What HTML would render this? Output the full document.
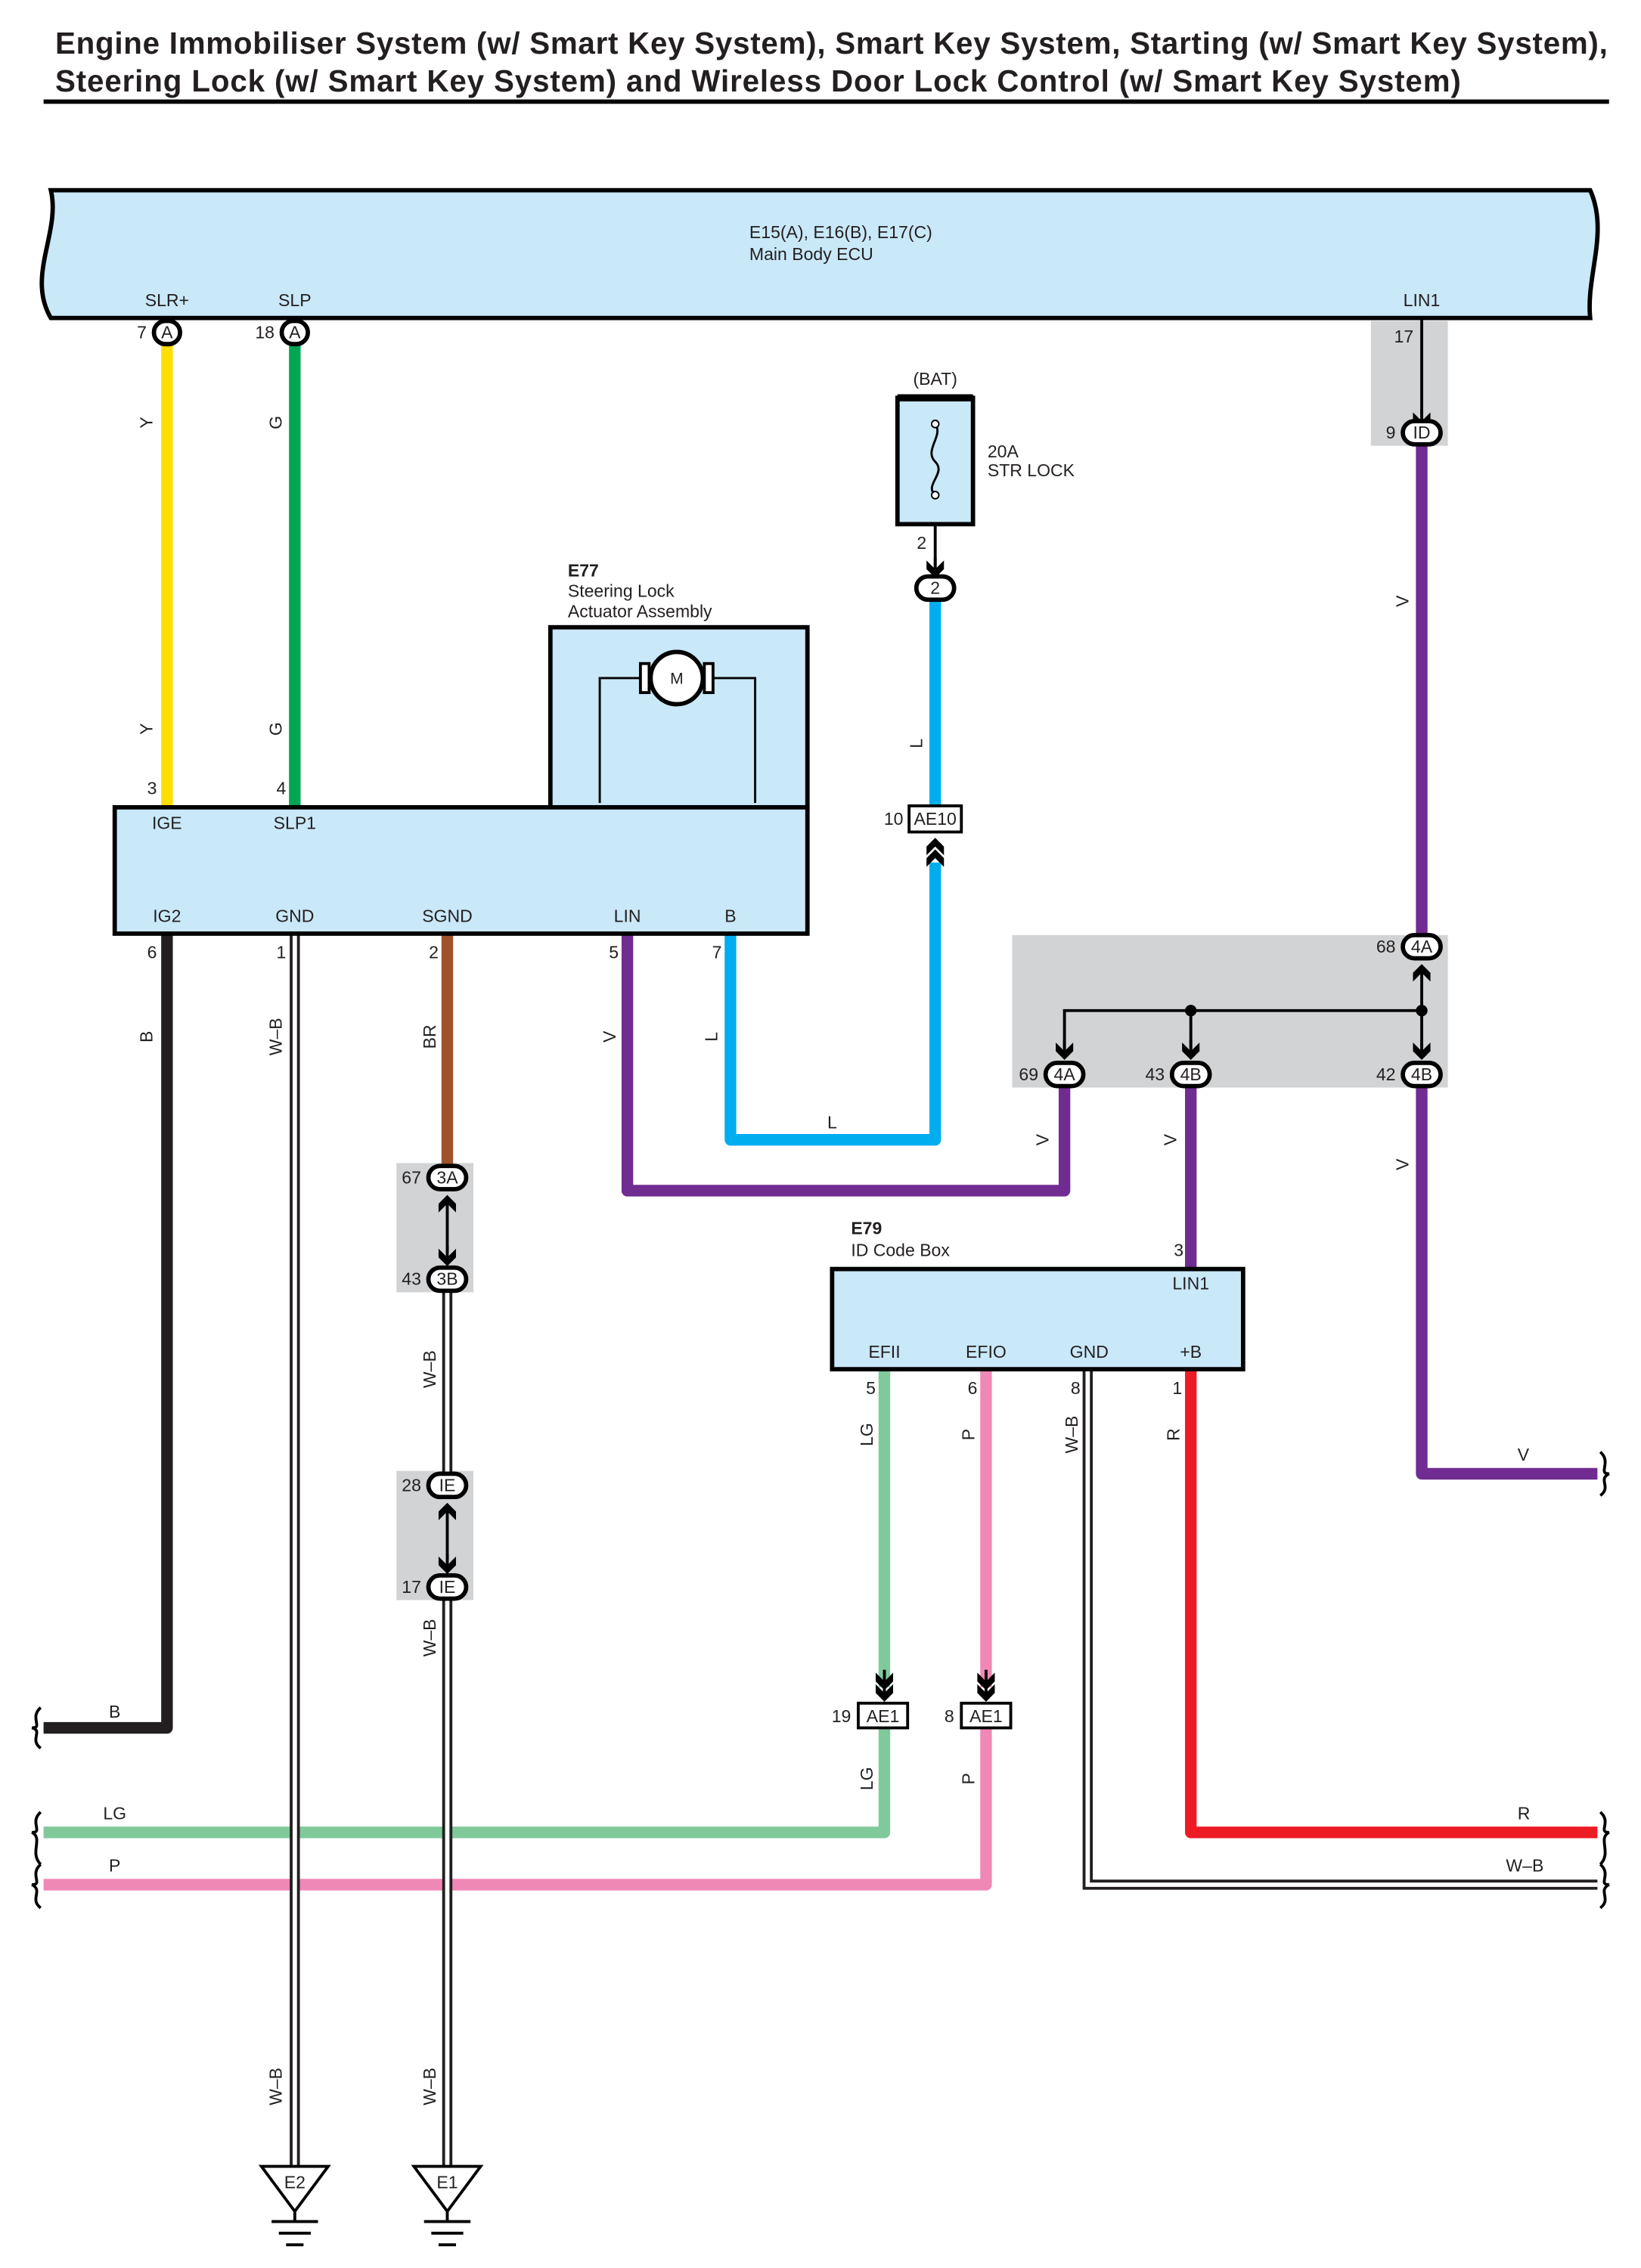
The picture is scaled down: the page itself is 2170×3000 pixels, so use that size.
<!DOCTYPE html>
<html><head><meta charset="utf-8"><style>
html,body{margin:0;padding:0;background:#fff}
svg{display:block}
text{font-family:"Liberation Sans Narrow","Liberation Sans",sans-serif;font-size:12px;fill:#231f20}
.b{font-weight:bold}
.t{font-family:"Liberation Sans",sans-serif;font-weight:bold;font-size:21px}
.m{text-anchor:middle}
.e{text-anchor:end}
.w{fill:none;stroke-width:8;stroke-linejoin:round}
.c{fill:#fff;stroke:#000;stroke-width:3}
</style></head><body>
<svg width="2170" height="3000" viewBox="0 0 1130 1562" preserveAspectRatio="none" xmlns="http://www.w3.org/2000/svg">
<defs>
<g id="dn"><path d="M0,-8 L0,2" stroke="#000" stroke-width="2"/><path d="M-6,-6 L0,0 L6,-6 L6,0 L0,6 L-6,0Z" fill="#000"/></g>
<g id="up"><path d="M-6,6 L0,0 L6,6 L6,0 L0,-6 L-6,0Z" fill="#000"/></g>
<g id="gnd"><path d="M-23,0 L23,0 L0,31Z" fill="#fff" stroke="#000" stroke-width="2"/><path d="M0,31 V38 M-16,38 H16 M-11,46 H11 M-6,54 H6" stroke="#000" stroke-width="2"/></g>
</defs>
<text class="t" x="38" y="37" textLength="1069">Engine Immobiliser System (w/ Smart Key System), Smart Key System, Starting (w/ Smart Key System),</text>
<text class="t" x="38" y="63" textLength="968">Steering Lock (w/ Smart Key System) and Wireless Door Lock Control (w/ Smart Key System)</text>
<rect x="30" y="68.5" width="1078" height="3" fill="#000"/>

<!-- ECU -->
<path d="M35,131 H1095 C1108,160 1092,190 1095,219 H35 C18,190 42,160 35,131Z" fill="#c9e8f8" stroke="#000" stroke-width="3"/>
<text x="516" y="164">E15(A), E16(B), E17(C)</text>
<text x="516" y="179">Main Body ECU</text>
<text class="m" x="115" y="211">SLR+</text><text class="m" x="203" y="211">SLP</text><text class="m" x="979" y="211">LIN1</text>

<!-- gray boxes -->
<rect x="944" y="221" width="53" height="86" fill="#d1d3d4"/>
<rect x="697" y="644" width="300" height="105" fill="#d1d3d4"/>
<rect x="273" y="801" width="53" height="89" fill="#d1d3d4"/>
<rect x="273" y="1013" width="53" height="89" fill="#d1d3d4"/>

<!-- wires -->
<path class="w" stroke="#ffde00" d="M115,237 V555"/>
<path class="w" stroke="#00a651" d="M203,237 V555"/>
<path class="w" stroke="#702c91" d="M979,306 V645"/>
<path class="w" stroke="#00aeef" d="M644,413 V556"/>
<path class="w" stroke="#00aeef" d="M644,594 V785 H503 V643"/>
<path class="w" stroke="#231f20" d="M115,643 V1190 H30"/>
<path class="w" stroke="#a0522d" d="M308,643 V803"/>
<path class="w" stroke="#702c91" d="M432,643 V820 H733 V748"/>
<path class="w" stroke="#702c91" d="M820,748 V873"/>
<path class="w" stroke="#702c91" d="M979,748 V1015 H1100"/>
<path class="w" stroke="#80c99b" d="M609,943 V1162"/>
<path class="w" stroke="#80c99b" d="M609,1190 V1262 H30"/>
<path class="w" stroke="#f088b6" d="M679,943 V1162"/>
<path class="w" stroke="#f088b6" d="M679,1190 V1298 H30"/>
<path class="w" stroke="#ed1c24" d="M820,943 V1262 H1100"/>
<!-- W-B -->
<g fill="none">
<path stroke="#231f20" stroke-width="7" d="M203,643 V1492"/><path stroke="#fff" stroke-width="3" d="M203,643 V1492"/>
<path stroke="#231f20" stroke-width="7" d="M308,889 V1015 M308,1101 V1492"/><path stroke="#fff" stroke-width="3" d="M308,889 V1015 M308,1101 V1492"/>
<path stroke="#231f20" stroke-width="7" d="M749,943 V1298 H1100"/><path stroke="#fff" stroke-width="3" d="M749,943 V1298 H1100"/>
</g>

<!-- break symbols -->
<g fill="none" stroke="#000" stroke-width="2">
<path d="M28,1176 C20,1183 30,1190 22,1190 C30,1192 20,1198 28,1204"/>
<path d="M28,1248 C20,1255 30,1262 22,1262 C30,1266 20,1276 28,1284"/>
<path d="M28,1284 C20,1291 30,1298 22,1298 C30,1302 20,1308 28,1314"/>
<path d="M1102,1000 C1110,1007 1100,1015 1108,1015 C1100,1019 1110,1024 1102,1030"/>
<path d="M1102,1248 C1110,1255 1100,1262 1108,1262 C1100,1266 1110,1276 1102,1284"/>
<path d="M1102,1284 C1110,1291 1100,1298 1108,1298 C1100,1302 1110,1308 1102,1314"/>
</g>

<!-- ECU connectors -->
<rect class="c" x="106" y="221" width="18" height="16" rx="8"/><text class="m" x="115" y="233">A</text><text class="e" x="101" y="233">7</text>
<rect class="c" x="194" y="221" width="18" height="16" rx="8"/><text class="m" x="203" y="233">A</text><text class="e" x="189" y="233">18</text>
<path d="M979,219 V285" stroke="#000" stroke-width="2"/><use href="#dn" x="979" y="290"/>
<text x="960" y="236">17</text>
<rect class="c" x="966" y="290" width="26" height="16" rx="8"/><text class="m" x="979" y="302">ID</text><text class="e" x="961" y="302">9</text>
<text transform="translate(970,414) rotate(-90)" class="m">V</text>

<!-- fuse -->
<text class="m" x="644" y="265">(BAT)</text>
<rect x="618" y="274" width="52" height="87" fill="#c9e8f8" stroke="#000" stroke-width="3"/>
<path d="M618,274 H670" stroke="#000" stroke-width="5"/>
<path d="M644,292 C650,300 636,310 644,318 C652,326 636,334 644,341" fill="none" stroke="#000" stroke-width="1.5"/>
<circle cx="644" cy="292" r="2.5" fill="#fff" stroke="#000"/><circle cx="644" cy="341" r="2.5" fill="#fff" stroke="#000"/>
<text x="680" y="315">20A</text><text x="680" y="328">STR LOCK</text>
<path d="M644,361 V393" stroke="#000" stroke-width="2"/><use href="#dn" x="644" y="392"/>
<text class="e" x="638" y="378">2</text>
<rect class="c" x="631" y="397" width="26" height="16" rx="8"/><text class="m" x="644" y="409">2</text>
<text transform="translate(635,512) rotate(-90)" class="m">L</text>
<rect x="626" y="555" width="36" height="18" fill="#fff" stroke="#000" stroke-width="2"/><text class="m" x="644" y="568">AE10</text><text class="e" x="622" y="568">10</text>
<use href="#up" x="644" y="583"/><use href="#up" x="644" y="591"/>
<text class="m" x="573" y="777">L</text>
<text transform="translate(494,714) rotate(-90)" class="m">L</text>

<!-- wire color labels -->
<text transform="translate(105,291) rotate(-90)" class="m">Y</text>
<text transform="translate(105,502) rotate(-90)" class="m">Y</text>
<text transform="translate(194,291) rotate(-90)" class="m">G</text>
<text transform="translate(194,502) rotate(-90)" class="m">G</text>

<!-- E77 -->
<text class="b" x="391" y="397">E77</text>
<text x="391" y="411">Steering Lock</text>
<text x="391" y="425">Actuator Assembly</text>
<rect x="379" y="432" width="177" height="124" fill="#c9e8f8" stroke="#000" stroke-width="3"/>
<path d="M413,553 V467 H444 M488,467 H520 V553" fill="none" stroke="#000" stroke-width="1.5"/>
<rect x="441" y="457" width="6" height="20" fill="#fff" stroke="#000" stroke-width="2"/>
<rect x="485" y="457" width="6" height="20" fill="#fff" stroke="#000" stroke-width="2"/>
<circle cx="466" cy="467" r="18" fill="#fff" stroke="#000" stroke-width="3"/><text class="m" x="466" y="471" style="font-size:11px">M</text>
<rect x="79" y="556" width="477" height="87" fill="#c9e8f8" stroke="#000" stroke-width="3"/>
<text class="m" x="115" y="571">IGE</text><text class="m" x="203" y="571">SLP1</text>
<text class="m" x="115" y="635">IG2</text><text class="m" x="203" y="635">GND</text><text class="m" x="308" y="635">SGND</text><text class="m" x="432" y="635">LIN</text><text class="m" x="503" y="635">B</text>
<text class="e" x="108" y="547">3</text><text class="e" x="197" y="547">4</text>
<text class="e" x="108" y="660">6</text><text class="e" x="197" y="660">1</text><text class="e" x="302" y="660">2</text><text class="e" x="426" y="660">5</text><text class="e" x="497" y="660">7</text>
<text transform="translate(105,714) rotate(-90)" class="m">B</text>
<text transform="translate(194,714) rotate(-90)" class="m">W–B</text>
<text transform="translate(300,714) rotate(-90)" class="m">BR</text>
<text transform="translate(424,714) rotate(-90)" class="m">V</text>
<text x="75" y="1183">B</text>

<!-- 3A/3B IE -->
<rect class="c" x="295" y="803" width="26" height="16" rx="8"/><text class="m" x="308" y="815">3A</text><text class="e" x="290" y="815">67</text>
<use href="#up" x="308" y="829"/><path d="M308,829 V862" stroke="#000" stroke-width="2"/><use href="#dn" x="308" y="866"/>
<rect class="c" x="295" y="873" width="26" height="16" rx="8"/><text class="m" x="308" y="885">3B</text><text class="e" x="290" y="885">43</text>
<text transform="translate(300,943) rotate(-90)" class="m">W–B</text>
<rect class="c" x="295" y="1015" width="26" height="16" rx="8"/><text class="m" x="308" y="1027">IE</text><text class="e" x="290" y="1027">28</text>
<use href="#up" x="308" y="1041"/><path d="M308,1041 V1074" stroke="#000" stroke-width="2"/><use href="#dn" x="308" y="1078"/>
<rect class="c" x="295" y="1085" width="26" height="16" rx="8"/><text class="m" x="308" y="1097">IE</text><text class="e" x="290" y="1097">17</text>
<text transform="translate(300,1128) rotate(-90)" class="m">W–B</text>
<text transform="translate(300,1437) rotate(-90)" class="m">W–B</text>
<text transform="translate(194,1437) rotate(-90)" class="m">W–B</text>
<use href="#gnd" x="203" y="1492"/><text class="m" x="203" y="1507">E2</text>
<use href="#gnd" x="308" y="1492"/><text class="m" x="308" y="1507">E1</text>

<!-- junction -->
<rect class="c" x="966" y="644" width="26" height="16" rx="8"/><text class="m" x="979" y="656">4A</text><text class="e" x="961" y="656">68</text>
<use href="#up" x="979" y="670"/>
<path d="M979,670 V722 M733,722 V696 H979 M820,696 V722" fill="none" stroke="#000" stroke-width="2"/>
<circle cx="820" cy="696" r="4" fill="#000"/><circle cx="979" cy="696" r="4" fill="#000"/>
<use href="#dn" x="733" y="724"/><use href="#dn" x="820" y="724"/><use href="#dn" x="979" y="724"/>
<rect class="c" x="720" y="732" width="26" height="16" rx="8"/><text class="m" x="733" y="744">4A</text><text class="e" x="715" y="744">69</text>
<rect class="c" x="807" y="732" width="26" height="16" rx="8"/><text class="m" x="820" y="744">4B</text><text class="e" x="802" y="744">43</text>
<rect class="c" x="966" y="732" width="26" height="16" rx="8"/><text class="m" x="979" y="744">4B</text><text class="e" x="961" y="744">42</text>
<text transform="translate(722,785) rotate(-90)" class="m">V</text>
<text transform="translate(810,785) rotate(-90)" class="m">V</text>
<text transform="translate(970,802) rotate(-90)" class="m">V</text>
<text x="1045" y="1006">V</text>

<!-- E79 -->
<text class="b" x="586" y="850">E79</text>
<text x="586" y="865">ID Code Box</text>
<text class="e" x="815" y="865">3</text>
<rect x="573" y="874" width="283" height="69" fill="#c9e8f8" stroke="#000" stroke-width="3"/>
<text class="m" x="820" y="888">LIN1</text>
<text class="m" x="609" y="935">EFII</text><text class="m" x="679" y="935">EFIO</text><text class="m" x="750" y="935">GND</text><text class="m" x="820" y="935">+B</text>
<text class="e" x="603" y="960">5</text><text class="e" x="673" y="960">6</text><text class="e" x="744" y="960">8</text><text class="e" x="814" y="960">1</text>
<text transform="translate(601,988) rotate(-90)" class="m">LG</text>
<text transform="translate(671,988) rotate(-90)" class="m">P</text>
<text transform="translate(742,988) rotate(-90)" class="m">W–B</text>
<text transform="translate(812,988) rotate(-90)" class="m">R</text>
<use href="#dn" x="609" y="1158"/><use href="#dn" x="609" y="1166"/>
<use href="#dn" x="679" y="1158"/><use href="#dn" x="679" y="1166"/>
<rect x="591" y="1173" width="34" height="17" fill="#fff" stroke="#000" stroke-width="2"/><text class="m" x="608" y="1186">AE1</text><text class="e" x="586" y="1186">19</text>
<rect x="662" y="1173" width="34" height="17" fill="#fff" stroke="#000" stroke-width="2"/><text class="m" x="679" y="1186">AE1</text><text class="e" x="657" y="1186">8</text>
<text transform="translate(601,1225) rotate(-90)" class="m">LG</text>
<text transform="translate(671,1225) rotate(-90)" class="m">P</text>
<text x="71" y="1253">LG</text>
<text x="75" y="1289">P</text>
<text x="1045" y="1253">R</text>
<text x="1037" y="1289">W–B</text>
</svg>
</body></html>
